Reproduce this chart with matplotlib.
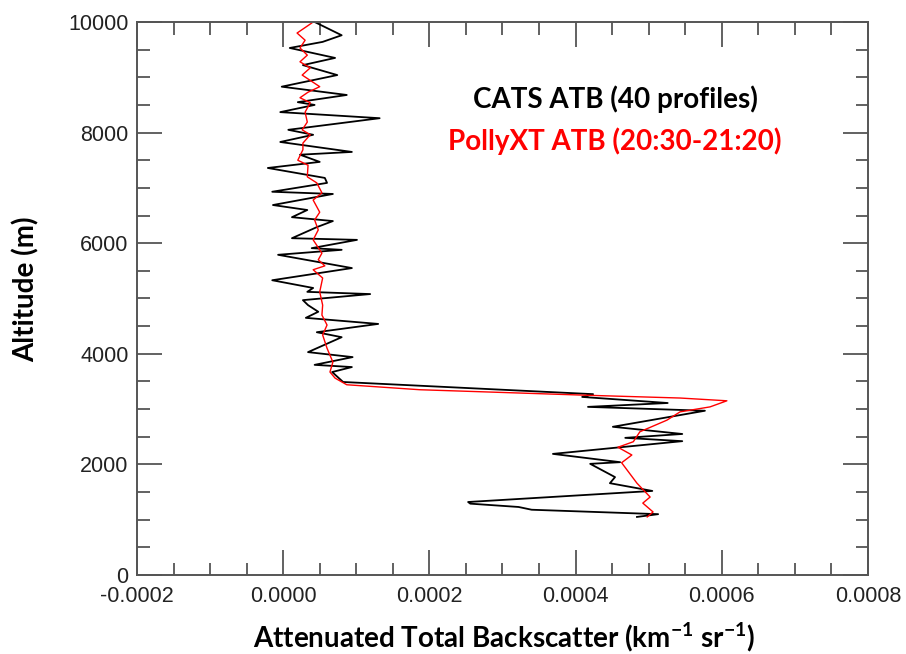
import numpy as np
import matplotlib.pyplot as plt
from matplotlib.ticker import MultipleLocator

plt.rcParams['mathtext.fontset'] = 'custom'
plt.rcParams['mathtext.rm'] = 'Lato:bold'
plt.rcParams['mathtext.bf'] = 'Lato:bold'

# --- data (x in units of 1e-4 km-1 sr-1, altitude in m) ---
cats_x = [0.43, 0.80, 0.54, 0.09, 0.71, 0.27, 0.74, -0.02, 0.87, 0.20, 0.43, -0.04,
          1.32, 0.07, 0.41, -0.04, 0.94, 0.23, 0.50, -0.21, 0.57, 0.60, -0.15, 0.68,
          -0.14, 0.33, 0.12, 0.68, 0.46, 0.12, 1.01, 0.39, 0.80, -0.07, 0.94, -0.15,
          0.41, 0.33, 1.19, 0.27, 0.34, 0.48, 0.31, 1.30, 0.46, 0.80, 0.34, 0.95,
          0.43, 0.94, 0.67, 0.82, 4.24, 4.09, 5.26, 4.17, 5.77, 4.51, 5.46, 4.68,
          5.46, 3.69, 4.61, 4.20, 4.54, 4.47, 5.05, 2.53, 2.56, 3.22, 3.40, 5.13, 4.84]
cats_alt = [10000, 9760, 9640, 9530, 9350, 9220, 9040, 8830, 8680, 8550, 8500, 8370,
            8260, 8050, 7960, 7830, 7650, 7600, 7470, 7360, 7180, 7090, 6930, 6890,
            6690, 6600, 6470, 6400, 6290, 6090, 6060, 5910, 5880, 5790, 5550, 5330,
            5190, 5120, 5080, 4970, 4880, 4760, 4650, 4540, 4390, 4300, 4030, 3940,
            3800, 3760, 3670, 3490, 3270, 3220, 3110, 3040, 2970, 2680, 2550, 2480,
            2420, 2190, 2040, 2010, 1770, 1660, 1520, 1320, 1290, 1230, 1180, 1100, 1050]

polly_x = [0.39, 0.19, 0.30, 0.23, 0.33, 0.23, 0.37, 0.26, 0.50, 0.34, 0.23, 0.37,
           0.30, 0.33, 0.26, 0.37, 0.27, 0.27, 0.20, 0.34, 0.33, 0.46, 0.53, 0.41,
           0.50, 0.43, 0.48, 0.41, 0.53, 0.48, 0.57, 0.41, 0.54, 0.50, 0.54, 0.53,
           0.60, 0.54, 0.60, 0.68, 0.64, 0.71, 0.87, 1.87, 4.16, 5.43, 6.07, 5.84,
           5.43, 5.25, 4.88, 4.79, 4.58, 4.77, 4.63, 4.84, 5.02, 4.92, 5.06, 4.98]
polly_alt = [9980, 9800, 9670, 9530, 9400, 9280, 9170, 9040, 8830, 8730, 8630, 8540,
             8370, 8190, 8050, 7960, 7810, 7690, 7500, 7410, 7200, 7090, 6910, 6780,
             6560, 6420, 6240, 6060, 5820, 5700, 5590, 5520, 5370, 5120, 4880, 4700,
             4520, 4340, 4100, 3850, 3670, 3560, 3440, 3350, 3250, 3200, 3150, 3040,
             2950, 2800, 2590, 2410, 2310, 2170, 2030, 1660, 1410, 1300, 1140, 1050]

cats_x = np.array(cats_x) * 1e-4
polly_x = np.array(polly_x) * 1e-4

frame_col = '#555555'
lab_font = dict(family='Lato', fontweight='bold', fontsize=20)

fig = plt.figure(figsize=(9.06, 6.54), dpi=100)
ax = fig.add_axes([0.1512, 0.1208, 0.8068, 0.8456])

ax.plot(cats_x, cats_alt, color='black', lw=1.3)
ax.plot(polly_x, polly_alt, color='red', lw=1.0)

ax.set_xlim(-0.0002, 0.0008)
ax.set_ylim(0, 10000)
ax.xaxis.set_major_locator(MultipleLocator(0.0002))
ax.xaxis.set_minor_locator(MultipleLocator(0.00005))
ax.yaxis.set_major_locator(MultipleLocator(2000))
ax.yaxis.set_minor_locator(MultipleLocator(500))
ax.xaxis.set_major_formatter(plt.FuncFormatter(lambda v, p: f'{v:.4f}'))
ax.yaxis.set_major_formatter(plt.FuncFormatter(lambda v, p: f'{v:.0f}'))

ax.tick_params(which='both', direction='in', top=True, right=True,
               color=frame_col, width=1.3)
ax.tick_params(which='major', length=18, labelsize=15.5, labelcolor='#222222', pad=6)
ax.tick_params(axis='x', which='major', pad=8)
ax.tick_params(which='minor', length=9)
for lab in ax.get_xticklabels() + ax.get_yticklabels():
    lab.set_family('Liberation Sans')
for s in ax.spines.values():
    s.set_color(frame_col)
    s.set_linewidth(1.4)

# axis titles
fig.text(26 / 906, 1 - 289 / 654, 'Altitude (m)', rotation=90,
         ha='center', va='center', **lab_font)
fig.text(504 / 906, 1 - 647 / 654,
         'Attenuated Total Backscatter (km$^{-1}$ sr$^{-1}$)',
         ha='center', va='baseline', **lab_font)

# legend-like labels
ax.text(0.654, 0.8445, 'CATS ATB (40 profiles)', transform=ax.transAxes,
        ha='center', va='baseline', color='black', **lab_font)
ax.text(0.654, 0.7685, 'PollyXT ATB (20:30-21:20)', transform=ax.transAxes,
        ha='center', va='baseline', color='red', **lab_font)

fig.savefig('out.png', dpi=100)
